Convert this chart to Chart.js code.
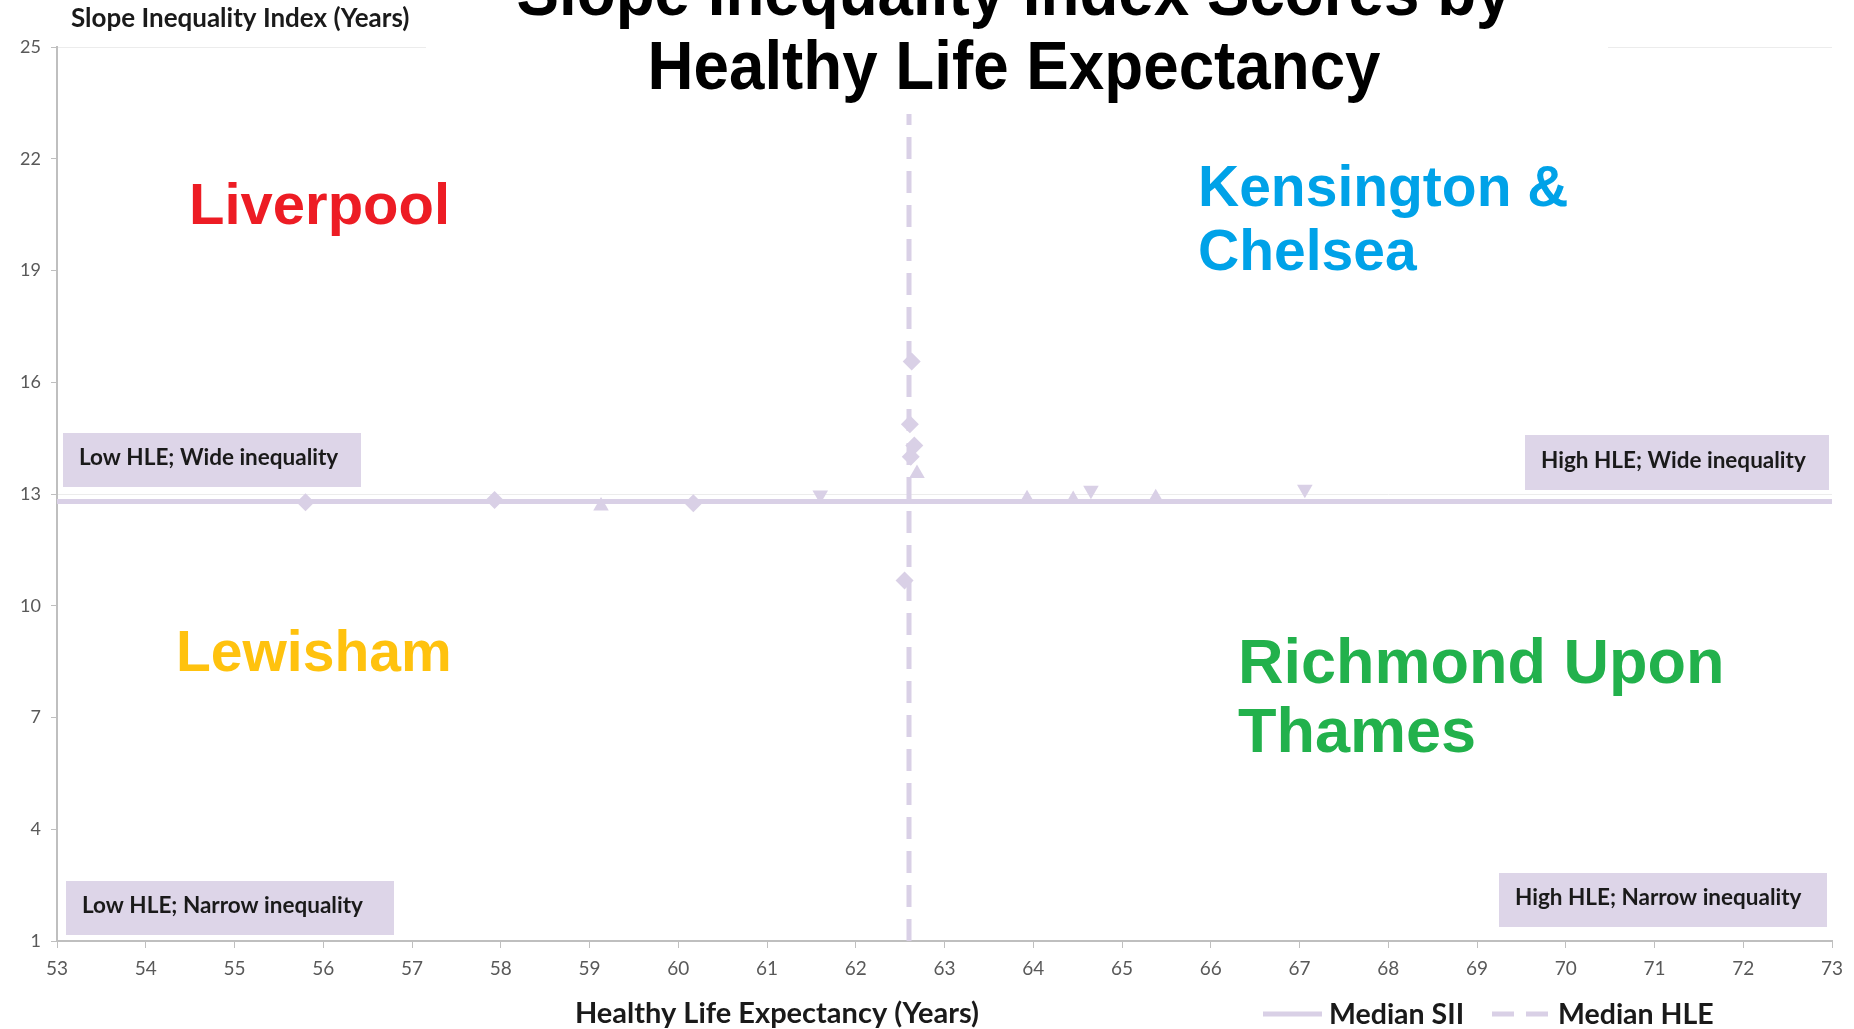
<!DOCTYPE html>
<html lang="en">
<head>
  <meta charset="UTF-8" />
  <title>Slope Inequality Index Scores by Healthy Life Expectancy</title>
  <script src="https://cdn.jsdelivr.net/npm/chart.js"></script>
  <style>
    * { box-sizing: border-box; }
    body { margin: 0; background: #fff; overflow: hidden; }
    #wrap { width: 1854px; height: 1029px; position: relative; }
  </style>
</head>
<body>
  <div id="wrap"><canvas id="sii" width="1854" height="1029"></canvas></div>

  <script>
    // axis ranges / ticks
    const xTicks = [53, 73, 1];
    const yTicks = [1, 25, 3];

    // medians
    const medianSII = 12.8;
    const medianHLE = 62.6;
    const hleLineSpan = [1, 23.2];

    // faint remaining markers (HLE, SII)
    const markerHLE = [62.63, 62.61, 62.66, 62.62, 62.69, 62.55, 55.8, 57.93, 59.13, 60.17, 61.6, 63.93, 64.45, 64.65, 65.38, 67.06];
    const markerSII = [16.56, 14.87, 14.3, 14.0, 13.55, 10.68, 12.78, 12.84, 12.68, 12.75, 12.97, 12.87, 12.85, 13.1, 12.9, 13.13];
    const markerShape = ['rectRot', 'rectRot', 'rectRot', 'rectRot', 'triangle', 'rectRot', 'rectRot', 'rectRot', 'triangle', 'rectRot', 'triangle', 'triangle', 'triangle', 'triangle', 'triangle', 'triangle'];
    const markerTurn = [0, 0, 0, 0, 0, 0, 0, 0, 0, 0, 180, 0, 0, 180, 0, 180];

    const quadrants = [
      { lines: ['Liverpool'], color: '#ed1c24', x: 189, y: 224, size: 58, gap: 66 },
      { lines: ['Kensington &', 'Chelsea'], color: '#00a2e8', x: 1198, y: 206, size: 57, gap: 64 },
      { lines: ['Lewisham'], color: '#ffc20e', x: 176, y: 671, size: 57, gap: 66 },
      { lines: ['Richmond Upon', 'Thames'], color: '#22b14c', x: 1238, y: 683, size: 63, gap: 69 }
    ];

    const boxes = [
      { text: 'Low HLE; Wide inequality', x: 63, y: 433, w: 298, h: 54 },
      { text: 'High HLE; Wide inequality', x: 1525, y: 435, w: 304, h: 55 },
      { text: 'Low HLE; Narrow inequality', x: 66, y: 881, w: 328, h: 54 },
      { text: 'High HLE; Narrow inequality', x: 1499, y: 873, w: 328, h: 54 }
    ];

    const lav = '#d9d0e6';
    const boxFill = '#ddd5e8';

    const overlay = {
      id: 'overlay',
      beforeDatasetsDraw(chart) {
        const c = chart.ctx;
        c.save();
        c.fillStyle = '#fff';
        c.fillRect(426, 0, 1182, 100);
        c.restore();
      },
      afterDraw(chart) {
        const c = chart.ctx;
        c.save();

        // title, a bit condensed
        c.fillStyle = '#000';
        c.font = 'bold 68px "Liberation Sans", Arial, sans-serif';
        c.textAlign = 'center';
        c.textBaseline = 'alphabetic';
        [['Slope Inequality Index Scores by', 15], ['Healthy Life Expectancy', 89]].forEach(([t, y]) => {
          c.save();
          c.translate(1014, y);
          c.scale(0.937, 1);
          c.fillText(t, 0, 0);
          c.restore();
        });

        // y axis title (horizontal, top left)
        c.textAlign = 'left';
        c.textBaseline = 'middle';
        c.fillStyle = '#1a1a1a';
        c.font = 'bold 26px Lato, "Open Sans", sans-serif';
        c.fillText('Slope Inequality Index (Years)', 71, 19);

        // x axis title
        c.textAlign = 'center';
        c.font = 'bold 29px Lato, "Open Sans", sans-serif';
        c.fillText('Healthy Life Expectancy (Years)', 777, 1014);

        // legend
        c.strokeStyle = lav;
        c.lineWidth = 5;
        c.beginPath(); c.moveTo(1263, 1014); c.lineTo(1322, 1014); c.stroke();
        c.setLineDash([22, 12]);
        c.beginPath(); c.moveTo(1492, 1014); c.lineTo(1551, 1014); c.stroke();
        c.setLineDash([]);
        c.textAlign = 'left';
        c.font = 'bold 28.5px Lato, "Open Sans", sans-serif';
        c.fillText('Median SII', 1329, 1015);
        c.fillText('Median HLE', 1558, 1015);

        // quadrant boxes
        boxes.forEach(b => {
          c.fillStyle = boxFill;
          c.fillRect(b.x, b.y, b.w, b.h);
          c.fillStyle = '#1a1a1a';
          c.font = 'bold 22.5px Lato, "Open Sans", sans-serif';
          c.textAlign = 'left';
          c.fillText(b.text, b.x + 16, b.y + b.h / 2 - 2);
        });

        // quadrant example areas
        c.textBaseline = 'alphabetic';
        quadrants.forEach(q => {
          c.fillStyle = q.color;
          c.font = 'bold ' + q.size + 'px "Liberation Sans", Arial, sans-serif';
          q.lines.forEach((t, i) => c.fillText(t, q.x, q.y + i * q.gap));
        });

        c.restore();
      }
    };

    const ctx = document.getElementById('sii').getContext('2d');

    new Chart(ctx, {
      type: 'scatter',
      data: {
        datasets: [
          {
            label: 'Median SII',
            data: [{ x: xTicks[0], y: medianSII }, { x: xTicks[1], y: medianSII }],
            showLine: true,
            borderColor: lav,
            borderWidth: 5,
            pointRadius: 0
          },
          {
            label: 'Median HLE',
            data: [{ x: medianHLE, y: hleLineSpan[0] }, { x: medianHLE, y: hleLineSpan[1] }],
            showLine: true,
            borderColor: lav,
            borderWidth: 5,
            borderDash: [22, 12],
            pointRadius: 0
          },
          {
            label: 'Authorities',
            data: markerHLE.map((x, i) => ({ x: x, y: markerSII[i] })),
            pointStyle: markerShape,
            rotation: markerTurn,
            pointRadius: 9,
            backgroundColor: lav,
            borderColor: lav,
            borderWidth: 0
          }
        ]
      },
      options: {
        responsive: false,
        animation: false,
        devicePixelRatio: 1,
        layout: { padding: { top: 47, right: 22, left: 0, bottom: 0 } },
        plugins: {
          legend: { display: false },
          title: { display: false },
          tooltip: { enabled: false }
        },
        scales: {
          x: {
            type: 'linear',
            min: xTicks[0],
            max: xTicks[1],
            ticks: {
              stepSize: xTicks[2],
              color: '#595959',
              font: { family: 'Lato', size: 19 },
              padding: 9
            },
            grid: {
              color: 'rgba(0,0,0,0)',
              tickColor: '#bfbfbf',
              tickLength: 7
            },
            border: { color: '#bfbfbf', width: 2 },
            afterFit: s => { s.height = 88; }
          },
          y: {
            min: yTicks[0],
            max: yTicks[1],
            ticks: {
              stepSize: yTicks[2],
              color: '#595959',
              font: { family: 'Lato', size: 18 },
              padding: 10
            },
            grid: {
              color: c => (c.tick && (c.tick.value === 25 || c.tick.value === 13)) ? '#ececec' : 'rgba(0,0,0,0)',
              tickColor: '#bfbfbf',
              tickLength: 6
            },
            border: { color: '#bfbfbf', width: 2 },
            afterFit: s => { s.width = 57; }
          }
        }
      },
      plugins: [overlay]
    });
  </script>
</body>
</html>
